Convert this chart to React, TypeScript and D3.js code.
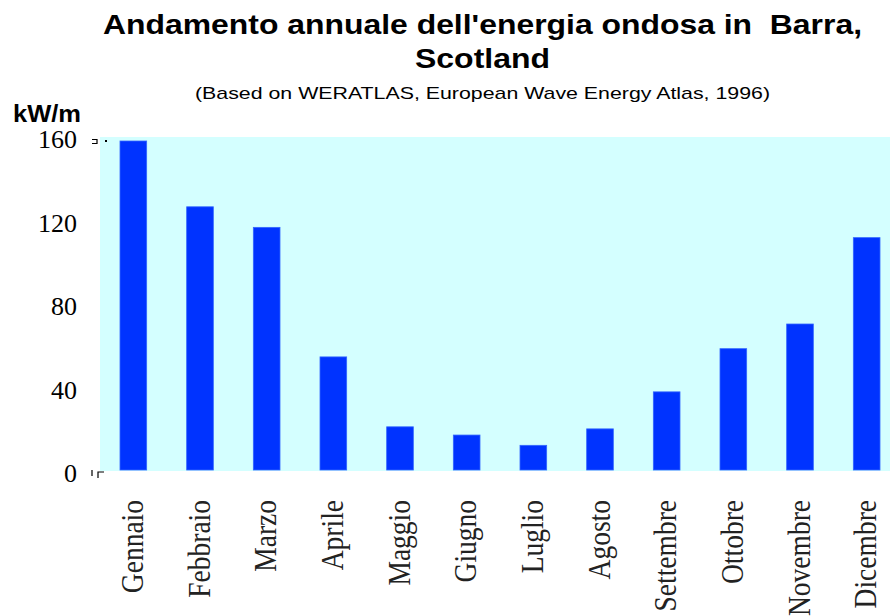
import React from "react";
import * as d3 from "d3";

const months = ["Gennaio","Febbraio","Marzo","Aprile","Maggio","Giugno","Luglio","Agosto","Settembre","Ottobre","Novembre","Dicembre"];
const values = [160,128,118,55,21,17,12,20,38,59,71,113];
const yTicks = [0,40,80,120,160];

export default function App() {
  const W = 890, H = 616;
  const left = 100, right = 900, top = 137, bottom = 471;
  const x = d3.scaleBand<string>().domain(months).range([left, right]).paddingInner(0.6).paddingOuter(0.3);
  const y = d3.scaleLinear().domain([0, 160]).range([470, 141]);
  const yLab = d3.scaleLinear().domain([0, 160]).range([482, 148]);
  const sans = "Liberation Sans, Arial, sans-serif";
  const serif = "Liberation Serif, Times New Roman, serif";
  return (
    <svg width={W} height={H} style={{ position: "absolute", left: 0, top: 0, background: "#fff" }}>
      <text x={103} y={33.5} fontFamily={sans} fontWeight="bold" fontSize={28} textLength={759} lengthAdjust="spacingAndGlyphs" style={{ whiteSpace: "pre" }}>{"Andamento annuale dell'energia ondosa in  Barra,"}</text>
      <text x={415} y={68} fontFamily={sans} fontWeight="bold" fontSize={28} textLength={135} lengthAdjust="spacingAndGlyphs">Scotland</text>
      <text x={195} y={99} fontFamily={sans} fontSize={17} textLength={575} lengthAdjust="spacingAndGlyphs">(Based on WERATLAS, European Wave Energy Atlas, 1996)</text>
      <text x={13} y={121.5} fontFamily={sans} fontWeight="bold" fontSize={23} textLength={68} lengthAdjust="spacingAndGlyphs">kW/m</text>
      <rect x={left} y={top} width={W - left} height={bottom - top} fill="#d4ffff" />
      {months.map((m, i) => (
        <rect key={m} x={x(m)} y={y(values[i])} width={x.bandwidth()} height={y(0) - y(values[i])} fill="#0033ff" stroke="#3366ff" strokeWidth={0.8} />
      ))}
      {yTicks.map(t => (
        <text key={t} x={77} y={yLab(t)} textAnchor="end" fontFamily={serif} fontSize={26}>{t}</text>
      ))}
      <path d="M92,139.5 H97 V143.5 H92" fill="none" stroke="#000" strokeWidth={1.2} />
      <rect x={105} y={140} width={2} height={2} fill="#000" />
      <path d="M92,470 V476 M98,478 V472 H104" fill="none" stroke="#000" strokeWidth={1.2} />
      {months.map(m => {
        const cx = (x(m) as number) + x.bandwidth() / 2;
        return (
          <text key={m} transform={`translate(${cx + 9.5},500) rotate(-90) scale(1,1.12)`} textAnchor="end" fontFamily={serif} fontSize={27.5} fill="#222">{m}</text>
        );
      })}
    </svg>
  );
}
